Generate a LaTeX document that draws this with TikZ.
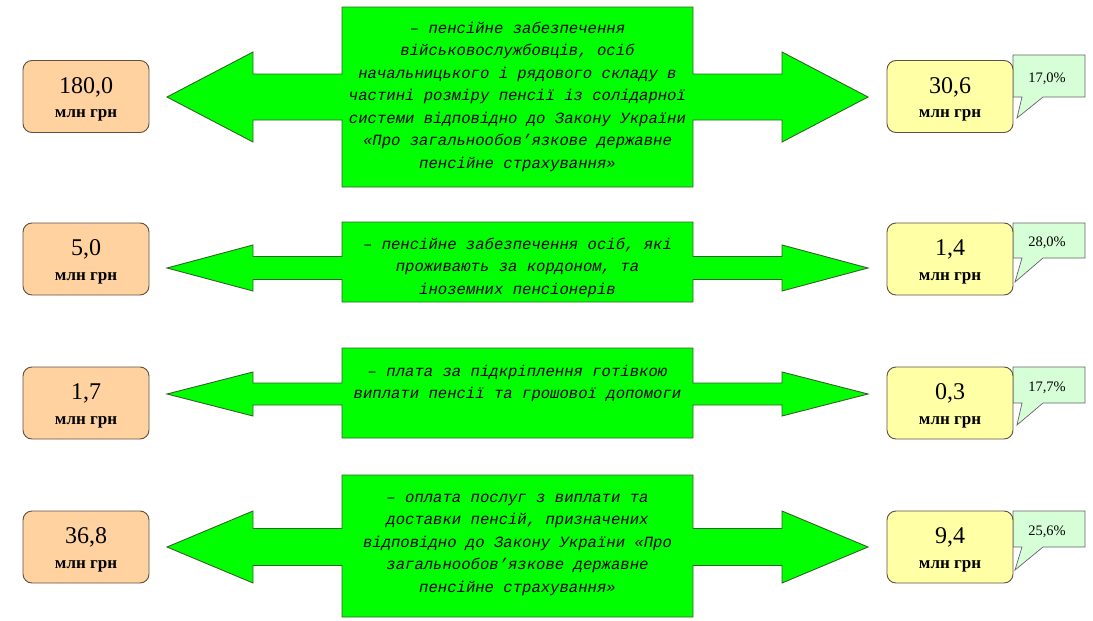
\documentclass[tikz,border=0pt]{standalone}
\usepackage{fontspec}
\setmainfont{Liberation Serif}
\newfontfamily\monofam{Liberation Mono}
\definecolor{arrgreen}{RGB}{0,255,0}
\definecolor{arrborder}{RGB}{50,100,40}
\definecolor{peach}{RGB}{255,210,160}
\definecolor{lyellow}{RGB}{255,255,165}
\definecolor{lgreen}{RGB}{215,255,215}
\definecolor{boxborder}{RGB}{95,80,65}
\definecolor{calloutborder}{RGB}{100,100,100}
\tikzset{
  arrowshape/.style={fill=arrgreen, draw=arrborder, line width=0.9pt, line join=miter},
  desc/.style={anchor=base, align=center, inner sep=0pt,
    font=\monofam\itshape\fontsize{15.6}{22.5}\selectfont},
  valbox/.style={draw=boxborder, rounded corners=9pt, minimum width=126pt,
    minimum height=72pt, line width=0.9pt, inner sep=0pt},
  leftbox/.style={valbox, fill=peach},
  rightbox/.style={valbox, fill=lyellow},
  numtxt/.style={anchor=base, inner sep=0pt, font=\fontsize{24}{28}\selectfont},
  unittxt/.style={anchor=base, inner sep=0pt, font=\bfseries\fontsize{17}{20}\selectfont},
  callout/.style={fill=lgreen, draw=calloutborder, line width=0.7pt, line join=miter},
  pcttxt/.style={anchor=base, inner sep=0pt, font=\fontsize{14.5}{17}\selectfont},
}
\begin{document}
\begin{tikzpicture}[x=1pt,y=-1pt]
\useasboundingbox[fill=white] (0,0) rectangle (1093,621);
% double arrows with central boxes
\foreach \yc/\hh/\sh/\rt/\rb in {97/45/23/7/187, 268/23/11.5/222/302, 394/22/11/348/438, 547/36/18.5/475/617}{
  \draw[arrowshape] (167,\yc) -- (253,\yc-\hh) -- (253,\yc-\sh) -- (342,\yc-\sh) -- (342,\rt)
    -- (693,\rt) -- (693,\yc-\sh) -- (782,\yc-\sh) -- (782,\yc-\hh) -- (868,\yc)
    -- (782,\yc+\hh) -- (782,\yc+\sh) -- (693,\yc+\sh) -- (693,\rb) -- (342,\rb)
    -- (342,\yc+\sh) -- (253,\yc+\sh) -- (253,\yc+\hh) -- cycle;
}
% anchor=base is the baseline of the last line
\node[desc] (d1) at (517.5,168) {– пенсійне забезпечення\\військовослужбовців, осіб\\начальницького і рядового складу в\\частині розміру пенсії із солідарної\\системи відповідно до Закону України\\«Про загальнообов’язкове державне\\пенсійне страхування»};
\node[desc] (d2) at (517.5,294) {– пенсійне забезпечення осіб, які\\проживають за кордоном, та\\іноземних пенсіонерів};
\node[desc] (d3) at (517.5,398.5) {– плата за підкріплення готівкою\\виплати пенсії та грошової допомоги};
\node[desc] (d4) at (517.5,592) {– оплата послуг з виплати та\\доставки пенсій, призначених\\відповідно до Закону України «Про\\загальнообов’язкове державне\\пенсійне страхування»};
% left value boxes
\foreach \i/\yc/\val in {1/96.5/{180,0}, 2/259/{5,0}, 3/403/{1,7}, 4/547/{36,8}}{
  \node[leftbox] (l\i) at (86,\yc) {};
  \node[numtxt] (ln\i) at (86,\yc-3.5) {\val};
  \node[unittxt] (lu\i) at (86,\yc+21) {млн грн};
}
% callouts
\foreach \i/\top/\bot/\tx/\ty/\pct in {1/55/97/1017/118/{17,0\%}, 2/223/258/1015/282/{28,0\%}, 3/367/403/1017/425/{17,7\%}, 4/511/547/1015/570/{25,6\%}}{
  \draw[callout] (1013,\top) -- (1085,\top) -- (1085,\bot) -- (1043,\bot) -- (\tx,\ty)
    -- (1022,\bot) -- (1013,\bot) -- cycle;
  \node[pcttxt] (p\i) at (1047,{(\top+\bot)/2+6}) {\pct};
}
% right value boxes
\foreach \i/\yc/\val in {1/96.5/{30,6}, 2/259/{1,4}, 3/403/{0,3}, 4/547/{9,4}}{
  \node[rightbox] (r\i) at (950,\yc) {};
  \node[numtxt] (rn\i) at (950,\yc-3.5) {\val};
  \node[unittxt] (ru\i) at (950,\yc+21) {млн грн};
}
\end{tikzpicture}
\end{document}
